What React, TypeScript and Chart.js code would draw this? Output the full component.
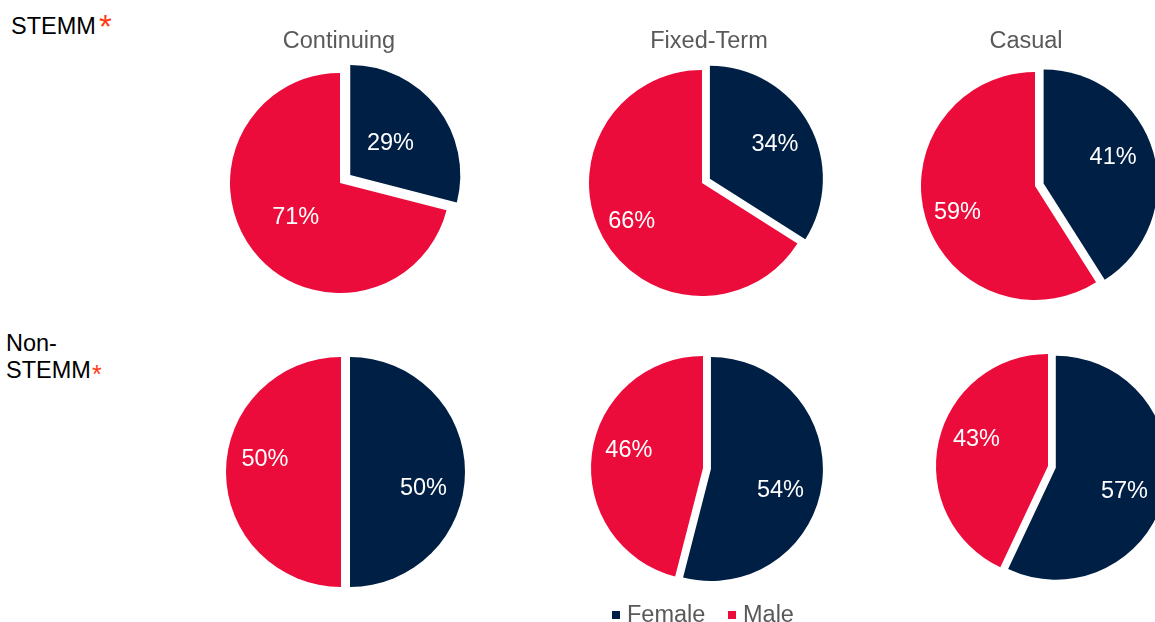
import React, { useEffect, useRef } from 'react';
import { Chart, ArcElement, registerables } from 'chart.js';

Chart.register(...registerables);

// ---- data ----
const categories = ['Female', 'Male'];
const columns = ['Continuing', 'Fixed-Term', 'Casual'];
const stemmFemale = [29, 34, 41];
const stemmMale = [71, 66, 59];
const nonStemmFemale = [50, 54, 57];
const nonStemmMale = [50, 46, 43];

// ---- style ----
const COLORS = ['#001F45', '#EC0C3B'];
const FONT = '"Liberation Sans", Arial, Helvetica, sans-serif';
const TEXT_SIZE = 23.5;
const CANVAS = 290;

// per-pie layout: centre, radius, explode distance (px) for the female slice,
// label distance (fraction of radius) and label angle tweak (degrees, clockwise) per slice
const pieLayout = [
  { cx: 340, cy: 183, r: 110, explode: 13, frac: [0.58, 0.51], tilt: [0, 0] },
  { cx: 702, cy: 183, r: 113, explode: 9, frac: [0.73, 0.71], tilt: [1, 0] },
  { cx: 1035, cy: 186, r: 114, explode: 9, frac: [0.73, 0.72], tilt: [-4, -3] },
  { cx: 341, cy: 472, r: 115, explode: 9, frac: [0.73, 0.67], tilt: [11, 9] },
  { cx: 703, cy: 468, r: 112, explode: 8, frac: [0.72, 0.68], tilt: [9, 6] },
  { cx: 1048, cy: 466, r: 112, explode: 8, frac: [0.72, 0.68], tilt: [6, 7.5] },
];

const pieValues: number[][] = [
  ...stemmFemale.map((f, i) => [f, stemmMale[i]]),
  ...nonStemmFemale.map((f, i) => [f, nonStemmMale[i]]),
];

// Explodes slices by a pure translation (keeps the slice radius unchanged)
const explodePlugin = {
  id: 'explode',
  afterUpdate(chart: any, _args: any, opts: any) {
    const meta = chart.getDatasetMeta(0);
    meta.data.forEach((el: any, i: number) => {
      const shift = (opts.shifts && opts.shifts[i]) || 0;
      el.draw = function (ctx: CanvasRenderingContext2D) {
        const mid = (this.startAngle + this.endAngle) / 2;
        ctx.save();
        ctx.translate(Math.cos(mid) * shift, Math.sin(mid) * shift);
        ArcElement.prototype.draw.call(this, ctx);
        ctx.restore();
      };
    });
  },
};

const labelPlugin = {
  id: 'sliceLabels',
  afterDatasetsDraw(chart: any, _args: any, opts: any) {
    const meta = chart.getDatasetMeta(0);
    const data = chart.data.datasets[0].data as number[];
    const ctx = chart.ctx as CanvasRenderingContext2D;
    ctx.save();
    ctx.font = `${TEXT_SIZE}px ${FONT}`;
    ctx.fillStyle = '#ffffff';
    ctx.textAlign = 'center';
    ctx.textBaseline = 'middle';
    meta.data.forEach((arc: any, i: number) => {
      const p = arc.getProps(['x', 'y', 'startAngle', 'endAngle', 'outerRadius'], true);
      const mid = (p.startAngle + p.endAngle) / 2 + ((opts.tilt[i] || 0) * Math.PI) / 180;
      const d = opts.frac[i] * p.outerRadius;
      ctx.fillText(`${data[i]}%`, p.x + Math.cos(mid) * d, p.y + Math.sin(mid) * d);
    });
    ctx.restore();
  },
};

function Pie({ values, layout }: { values: number[]; layout: any }) {
  const ref = useRef<HTMLCanvasElement>(null);
  useEffect(() => {
    if (!ref.current) return;
    const chart = new Chart(ref.current, {
      type: 'pie',
      data: {
        labels: categories,
        datasets: [
          {
            data: values,
            backgroundColor: COLORS,
            borderWidth: 0,
            offset: 0,
            hoverOffset: 0,
          } as any,
        ],
      },
      options: {
        responsive: false,
        animation: false,
        radius: layout.r,
        events: [],
        layout: { padding: 0 },
        plugins: {
          legend: { display: false },
          tooltip: { enabled: false },
          explode: { shifts: [layout.explode, 0] },
          sliceLabels: { frac: layout.frac, tilt: layout.tilt },
        } as any,
      } as any,
      plugins: [explodePlugin, labelPlugin],
    });
    return () => chart.destroy();
  }, [values, layout]);
  return (
    <canvas
      ref={ref}
      width={CANVAS}
      height={CANVAS}
      style={{
        position: 'absolute',
        left: layout.cx - CANVAS / 2,
        top: layout.cy - CANVAS / 2,
        width: CANVAS,
        height: CANVAS,
      }}
    />
  );
}

const titleCenters = [339, 709, 1026];

export default function App() {
  const text: React.CSSProperties = {
    position: 'absolute',
    fontFamily: FONT,
    fontSize: TEXT_SIZE,
    lineHeight: 1,
    whiteSpace: 'nowrap',
  };
  return (
    <div
      style={{
        position: 'fixed',
        left: 0,
        top: 0,
        width: 1155,
        height: 622,
        overflow: 'hidden',
        background: '#ffffff',
        fontFamily: FONT,
      }}
    >
      {pieValues.map((v, i) => (
        <Pie key={i} values={v} layout={pieLayout[i]} />
      ))}
      {columns.map((c, i) => (
        <div
          key={c}
          style={{ ...text, color: '#595959', top: 29, left: titleCenters[i] - 100, width: 200, textAlign: 'center' }}
        >
          {c}
        </div>
      ))}
      {/* row labels */}
      <div style={{ ...text, color: '#000', top: 15, left: 11 }}>STEMM</div>
      <div style={{ ...text, color: '#FF3D14', top: 10, left: 99, fontSize: 33 }}>*</div>
      <div style={{ ...text, color: '#000', top: 332, left: 6 }}>Non-</div>
      <div style={{ ...text, color: '#000', top: 359, left: 6 }}>STEMM</div>
      <div style={{ ...text, color: '#FF3D14', top: 362, left: 92, fontSize: 25 }}>*</div>
      {/* legend */}
      <div style={{ position: 'absolute', left: 612, top: 611, width: 8, height: 8, background: COLORS[0] }} />
      <div style={{ ...text, color: '#595959', top: 603, left: 627 }}>{categories[0]}</div>
      <div style={{ position: 'absolute', left: 728, top: 611, width: 8, height: 8, background: COLORS[1] }} />
      <div style={{ ...text, color: '#595959', top: 603, left: 743 }}>{categories[1]}</div>
    </div>
  );
}
